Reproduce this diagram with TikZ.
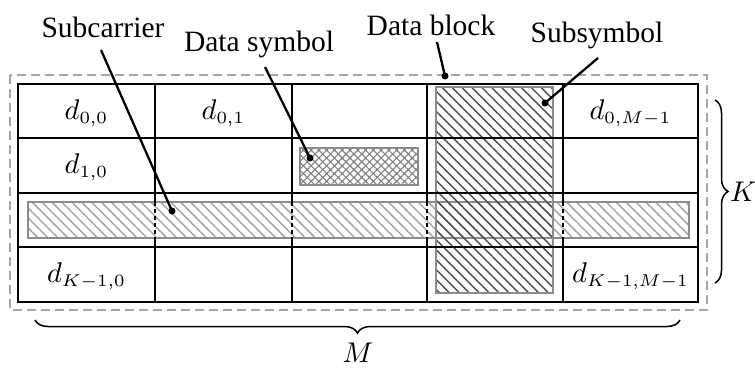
\documentclass[tikz,border=0pt]{standalone}
\usepackage{fontspec}
\usepackage{graphicx}
\setmainfont{Liberation Serif}
\usetikzlibrary{patterns.meta,decorations.pathreplacing}
\newcommand{\bigmath}[1]{\scalebox{2.85}{\fontsize{10}{12}\selectfont$#1$}}
\newcommand{\dsym}[1]{\bigmath{d_{\mbox{\fontsize{6.5}{7}\selectfont$#1$}}}}
\begin{document}
\begin{tikzpicture}[x=1pt,y=-1pt,
  font=\fontsize{29.5}{34}\selectfont,
  gridline/.style={line width=1.8pt},
  leader/.style={line width=2.3pt},
  dotmark/.style={circle,fill=black,inner sep=0pt,minimum size=7pt},
  lbl/.style={anchor=base,inner sep=0pt},
  cell/.style={inner sep=0pt},
  bracestyle/.style={decorate,decoration={brace,amplitude=13pt},line width=1.5pt},
  hatchborder/.style={draw=black!45,line width=1.5pt}]
\useasboundingbox (0,0) rectangle (755,368);

% hatched areas
\fill[pattern={Lines[angle=-45,distance=7pt,line width=1.5pt]},pattern color=black!35] (28,202) rectangle (689,238);
\draw[hatchborder] (28,202) rectangle (689,238);
\fill[pattern={Lines[angle=-45,distance=7pt,line width=1.4pt]},pattern color=black!70] (436,87) rectangle (553,293);
\draw[hatchborder] (436,87) rectangle (553,293);
\fill[pattern={Hatch[angle=45,distance=5.5pt,line width=1.1pt]},pattern color=black!50] (300,148) rectangle (418,185);
\draw[hatchborder,line width=2.2pt] (300,148) rectangle (418,185);

% grid
\draw[gridline] (18,84) rectangle (698,302);
\foreach \y in {138,193,247} \draw[gridline] (18,\y) -- (698,\y);
\foreach \x in {155,292,427,563} {
  \draw[gridline] (\x,84) -- (\x,202);
  \draw[gridline,dash pattern=on 4pt off 3pt] (\x,202) -- (\x,238);
  \draw[gridline] (\x,238) -- (\x,302);
}

% outer dashed block
\draw[black!35,line width=1.5pt,dash pattern=on 9pt off 5pt] (10,75) rectangle (707,310);

% cell labels
\node[cell] (c00) at (86.5,113) {\dsym{0{,}0}};
\node[cell] (c01) at (223.5,113) {\dsym{0{,}1}};
\node[cell] (c0M) at (630.5,113) {\dsym{0{,}M{-}1}};
\node[cell] (c10) at (86.5,167) {\dsym{1{,}0}};
\node[cell] (cK0) at (86.5,276) {\dsym{K{-}1{,}0}};
\node[cell] (cKM) at (630.5,276) {\dsym{K{-}1{,}M{-}1}};

% labels with leaders
\node[lbl] (subc) at (103,37) {Subcarrier};
\coordinate (subcA) at (101,50);
\node[dotmark] (subcB) at (172,211) {};
\draw[leader] (subcA) -- (subcB.center);

\node[lbl] (dsym) at (259,51) {Data symbol};
\coordinate (dsymA) at (265,67);
\node[dotmark] (dsymB) at (310,158) {};
\draw[leader] (dsymA) -- (dsymB.center);

\node[lbl] (dblk) at (431,35) {Data block};
\coordinate (dblkA) at (437,42);
\node[dotmark] (dblkB) at (445,76) {};
\draw[leader] (dblkA) -- (dblkB.center);

\node[lbl] (ssym) at (597,42) {Subsymbol};
\coordinate (ssymA) at (598,58);
\node[dotmark] (ssymB) at (545,103) {};
\draw[leader] (ssymA) -- (ssymB.center);

% braces
\coordinate (kA) at (715,100);
\coordinate (kB) at (715,283);
\draw[bracestyle] (kA) -- (kB);
\node[anchor=west,inner sep=0pt] (K) at (730,192) {\bigmath{K}};
\coordinate (mA) at (680,320);
\coordinate (mB) at (35,320);
\draw[bracestyle] (mA) -- (mB);
\node[inner sep=0pt] (M) at (358,353) {\bigmath{M}};
\end{tikzpicture}
\end{document}
